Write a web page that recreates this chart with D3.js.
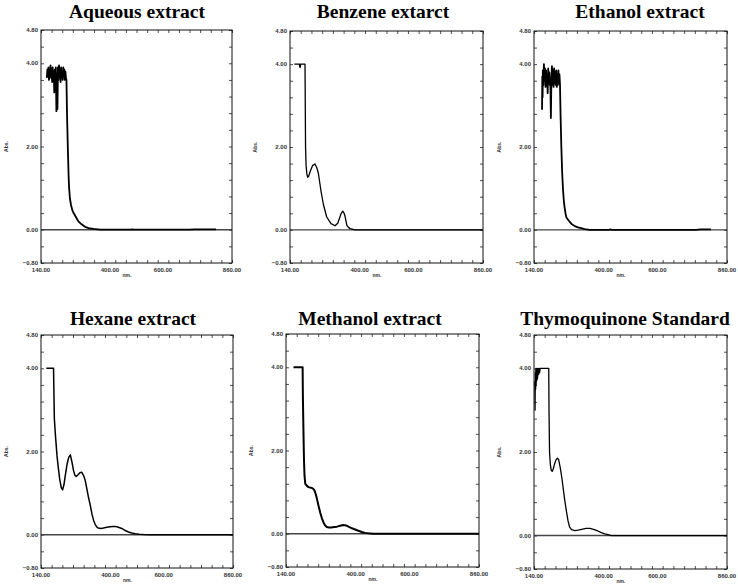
<!DOCTYPE html>
<html lang="en">
<head>
    <meta charset="UTF-8">
    <title>UV-Vis spectra of extracts</title>
    <script src="https://d3js.org/d3.v7.min.js"></script>
    <style>
        * { margin: 0; padding: 0; box-sizing: border-box; }
        body { background: #ffffff; width: 738px; height: 585px; overflow: hidden; }
        .title { font-family: 'Liberation Serif', 'Times New Roman', serif; font-weight: bold; font-size: 19.5px; fill: #000; }
        .tick-label { font-family: 'Liberation Sans', Arial, sans-serif; font-weight: bold; font-size: 6px; fill: #333; }
        .axis-title { font-family: 'Liberation Sans', Arial, sans-serif; font-weight: bold; font-size: 5px; fill: #333; }
        .axis path { display: none; }
        .axis line { stroke: #222; stroke-width: 0.8; }
    </style>
</head>
<body>
<svg id="chart" width="738" height="585"></svg>
<script>
    // panel titles (text as in the figure)
    const titles = ["Aqueous extract", "Benzene extarct", "Ethanol extract",
                    "Hexane extract", "Methanol extract", "Thymoquinone Standard"];

    // axis tick labels
    const xTickLabels = [140, 400, 600, 860];
    const yTickLabels = [-0.8, 0, 2, 4, 4.8];

    // spectra as [wavelength nm, absorbance]
    const aqueous = [
        [162, 3.65], [164, 3.85], [166, 3.7], [168, 3.9], [170, 3.6], [172, 3.8], [174, 3.75], [176, 3.95],
        [178, 3.65], [180, 3.85], [182, 3.55], [184, 3.9], [186, 3.7], [188, 3.8], [190, 3.3], [192, 3.85],
        [194, 3.6], [196, 3.9], [198, 2.85], [200, 3.75], [202, 2.9], [204, 3.9], [206, 3.6], [208, 3.95],
        [210, 3.7], [212, 3.85], [214, 3.55], [216, 3.9], [218, 3.65], [220, 3.8], [222, 3.6], [224, 3.9],
        [226, 3.7], [228, 3.85], [230, 3.6], [232, 3.8], [234, 3.65], [236, 3.6],
        [238, 2.8], [241, 2.0], [244, 1.3], [246, 1.0], [249, 0.75], [253, 0.6], [258, 0.47], [263, 0.4],
        [272, 0.3], [281, 0.2], [293, 0.13], [306, 0.07], [320, 0.04], [338, 0.02], [363, 0.0],
        [478, 0.0], [484, 0.01], [492, 0.0], [700, 0.0], [720, 0.01], [800, 0.01]
    ];
    const benzene = [
        [156, 4.0], [175, 4.0], [176, 3.94], [177, 4.0], [178, 3.92], [180, 4.0], [196, 4.0],
        [197, 3.0], [198, 2.0], [200, 1.55], [203, 1.35], [206, 1.27], [210, 1.3], [216, 1.42],
        [224, 1.55], [233, 1.59], [240, 1.5], [246, 1.36], [256, 0.92], [265, 0.6], [277, 0.31],
        [293, 0.15], [308, 0.1], [318, 0.16], [324, 0.27], [331, 0.4], [337, 0.45], [342, 0.4],
        [346, 0.31], [352, 0.11], [358, 0.06], [364, 0.03], [383, 0.0], [860, 0.0]
    ];
    const ethanol = [
        [170, 2.9], [171, 3.7], [172, 3.2], [173, 3.85], [175, 3.5], [177, 4.0], [179, 3.6], [181, 3.9],
        [183, 3.45], [185, 3.85], [187, 3.5], [189, 3.75], [191, 3.3], [193, 3.9], [195, 3.55], [197, 3.8],
        [199, 3.5], [201, 3.6], [203, 2.7], [205, 3.7], [207, 3.95], [209, 3.5], [211, 3.85], [213, 3.45],
        [215, 3.9], [217, 3.55], [219, 3.8], [221, 3.5], [223, 3.85], [225, 3.45], [227, 3.75], [229, 3.5],
        [231, 3.85], [233, 3.55], [235, 3.75], [237, 3.5],
        [239, 2.8], [242, 2.0], [245, 1.4], [248, 1.0], [251, 0.72], [254, 0.55], [258, 0.38], [261, 0.3],
        [270, 0.22], [279, 0.15], [292, 0.09], [304, 0.06], [316, 0.04], [329, 0.02], [348, 0.0],
        [420, 0.0], [425, 0.01], [430, 0.0], [745, 0.0], [760, 0.01], [800, 0.01]
    ];
    const hexane = [
        [160, 4.0], [187, 4.0], [189, 3.2], [190, 2.8], [194, 2.4], [200, 1.9], [205, 1.6], [210, 1.34],
        [216, 1.13], [221, 1.08], [226, 1.2], [231, 1.42], [238, 1.7], [244, 1.86], [250, 1.92],
        [256, 1.75], [262, 1.54], [267, 1.43], [272, 1.4], [279, 1.44], [286, 1.49], [293, 1.5],
        [300, 1.42], [306, 1.3], [312, 1.1], [318, 0.9], [325, 0.7], [331, 0.5], [337, 0.35],
        [343, 0.25], [349, 0.19], [355, 0.16], [365, 0.15], [374, 0.16], [387, 0.18], [399, 0.19],
        [410, 0.2], [418, 0.2], [430, 0.18], [443, 0.15], [456, 0.1], [468, 0.065], [480, 0.04],
        [493, 0.025], [508, 0.012], [524, 0.005], [549, 0.0], [860, 0.0]
    ];
    const methanol = [
        [168, 4.0], [202, 4.0], [203, 3.3], [205, 2.5], [207, 1.8], [209, 1.4], [212, 1.2], [218, 1.15],
        [224, 1.12], [230, 1.11], [237, 1.1], [243, 1.07], [247, 1.03], [251, 0.95], [255, 0.85],
        [261, 0.68], [268, 0.5], [274, 0.37], [280, 0.27], [286, 0.2], [292, 0.16], [300, 0.15],
        [309, 0.15], [320, 0.16], [330, 0.17], [342, 0.19], [354, 0.21], [364, 0.2], [373, 0.17],
        [386, 0.13], [398, 0.1], [410, 0.07], [423, 0.04], [435, 0.02], [447, 0.01], [466, 0.0], [860, 0.0]
    ];
    const thymoquinone = [
        [143, 3.7], [144, 3.0], [145, 3.9], [146, 3.5], [147, 4.0], [148, 3.6], [149, 3.95], [150, 3.7],
        [151, 4.0], [153, 3.75], [155, 4.0], [157, 3.85], [159, 4.0], [161, 3.9], [163, 4.0], [195, 4.0],
        [196, 3.0], [198, 2.0], [201, 1.7], [204, 1.57], [208, 1.54], [212, 1.6], [217, 1.72],
        [222, 1.81], [227, 1.85], [232, 1.82], [238, 1.62], [243, 1.42], [248, 1.18], [254, 0.88],
        [261, 0.58], [267, 0.35], [273, 0.2], [280, 0.14], [292, 0.12], [304, 0.13], [318, 0.15],
        [334, 0.17], [349, 0.17], [362, 0.15], [378, 0.11], [391, 0.07], [404, 0.04], [416, 0.02],
        [429, 0.0], [860, 0.0]
    ];

    const spectra = [aqueous, benzene, ethanol, hexane, methanol, thymoquinone];

    // plot rectangles [left, top, right, bottom] and title baseline/center
    const layout = [
        { l: 41,  t: 30,  r: 232, b: 263, tx: 137, ty: 18,  w: 1.8 },
        { l: 290, t: 31,  r: 483, b: 263, tx: 383, ty: 18,  w: 1.3 },
        { l: 534, t: 31,  r: 727, b: 263, tx: 640, ty: 18,  w: 1.8 },
        { l: 41,  t: 335, r: 233, b: 568, tx: 133, ty: 325, w: 1.5 },
        { l: 286, t: 334, r: 479, b: 567, tx: 370, ty: 325, w: 2.0 },
        { l: 534, t: 335, r: 727, b: 569, tx: 625, ty: 325, w: 1.3 }
    ];

    const svg = d3.select("#chart");

    spectra.forEach((data, i) => {
        const p = layout[i];
        const width = p.r - p.l;
        const height = p.b - p.t;

        const g = svg.append("g").attr("transform", `translate(${p.l},${p.t})`);

        const x = d3.scaleLinear().domain([140, 860]).range([0, width]);
        const y = d3.scaleLinear().domain([-0.8, 4.8]).range([height, 0]);

        // title
        svg.append("text")
            .attr("class", "title")
            .attr("x", p.tx)
            .attr("y", p.ty)
            .attr("text-anchor", "middle")
            .text(titles[i]);

        // inward minor ticks on all four sides
        const xMinor = d3.range(140, 861, 40);
        const yMinor = d3.range(-0.8, 4.81, 0.4);
        g.append("g").attr("class", "axis").attr("transform", `translate(0,${height})`)
            .call(d3.axisBottom(x).tickValues(xMinor).tickSize(-3).tickFormat(""));
        g.append("g").attr("class", "axis")
            .call(d3.axisTop(x).tickValues(xMinor).tickSize(-3).tickFormat(""));
        g.append("g").attr("class", "axis")
            .call(d3.axisLeft(y).tickValues(yMinor).tickSize(-3).tickFormat(""));
        g.append("g").attr("class", "axis").attr("transform", `translate(${width},0)`)
            .call(d3.axisRight(y).tickValues(yMinor).tickSize(-3).tickFormat(""));

        // tick labels
        g.selectAll(".xl").data(xTickLabels).enter().append("text")
            .attr("class", "tick-label")
            .attr("x", d => x(d))
            .attr("y", height + 9)
            .attr("text-anchor", "middle")
            .text(d => d3.format(".2f")(d));
        g.selectAll(".yl").data(yTickLabels).enter().append("text")
            .attr("class", "tick-label")
            .attr("x", -3)
            .attr("y", d => y(d) + 2)
            .attr("text-anchor", "end")
            .text(d => d3.format(".2f")(d));

        // axis titles
        g.append("text").attr("class", "axis-title")
            .attr("x", width * 0.45).attr("y", height + 14)
            .attr("text-anchor", "middle").text("nm.");
        g.append("text").attr("class", "axis-title")
            .attr("transform", `translate(${-33},${y(2)}) rotate(-90)`)
            .attr("text-anchor", "middle").text("Abs.");

        // zero baseline
        g.append("line")
            .attr("x1", 0).attr("x2", width)
            .attr("y1", y(0)).attr("y2", y(0))
            .attr("stroke", "#444").attr("stroke-width", 1.4);

        // spectrum
        const line = d3.line().x(d => x(d[0])).y(d => y(d[1]));
        g.append("path")
            .datum(data)
            .attr("fill", "none")
            .attr("stroke", "#000")
            .attr("stroke-width", p.w)
            .attr("stroke-linejoin", "round")
            .attr("d", line);

        // frame
        g.append("rect")
            .attr("width", width).attr("height", height)
            .attr("fill", "none").attr("stroke", "#111").attr("stroke-width", 1);
    });
</script>
</body>
</html>
